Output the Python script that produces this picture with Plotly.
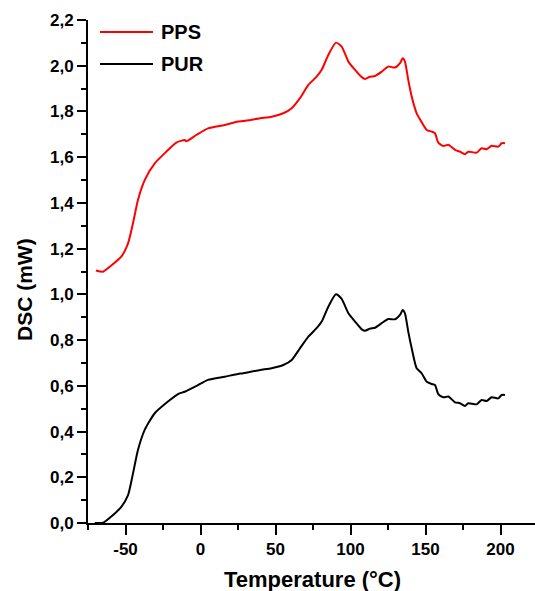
import plotly.graph_objects as go

series_names = ["PPS", "PUR"]
series_colors = ["#ff0000", "#000000"]

pps_temp = [-69.7, -65, -59.5, -52.8, -48.3, -45, -41.7, -37.2, -30.5, -22.8, -16.1, -10.5, -9.5, -2.8, 5, 16.1,
            25, 28.5, 39.7, 47.4, 55.2, 60.8, 66.3, 71.9, 77.4, 80.8, 85.2, 90.3, 94.1, 98.6, 103, 107.5, 109.7,
            113, 116.3, 120.8, 125.2, 129.7, 133, 134.8, 136.3, 138.5, 140.8, 144.1, 146.3, 150.8, 154.1, 156.3,
            158.5, 161.9, 165.2, 169.7, 173, 176.3, 178.5, 184.1, 187.4, 190.8, 194.1, 198.5, 200.8, 203]
pps_dsc = [1.104, 1.099, 1.126, 1.165, 1.223, 1.311, 1.413, 1.50, 1.573, 1.624, 1.664, 1.675, 1.670, 1.697, 1.726, 1.741,
           1.756, 1.758, 1.770, 1.777, 1.792, 1.814, 1.858, 1.916, 1.952, 1.982, 2.047, 2.101, 2.084, 2.018, 1.982, 1.950, 1.942,
           1.952, 1.955, 1.974, 1.996, 1.992, 2.011, 2.033, 2.018, 1.938, 1.865, 1.792, 1.766, 1.719, 1.712, 1.705,
           1.664, 1.649, 1.654, 1.632, 1.624, 1.613, 1.624, 1.620, 1.639, 1.635, 1.650, 1.646, 1.661, 1.661]

pur_temp = [-70.5, -65, -59.5, -52.8, -48.3, -45, -41.7, -37.2, -30.5, -21.7, -15, -10.5, -2.8, 5, 16.1, 25,
            28.5, 39.7, 47.4, 55.2, 60.8, 66.3, 71.9, 77.4, 80.8, 85.2, 90.3, 94.1, 98.6, 103, 107.5, 109.7,
            113, 116.3, 120.8, 125.2, 129.7, 133, 134.8, 136.3, 138.5, 140.8, 144.1, 147.4, 150.8, 154.1, 156.3,
            158.5, 161.9, 165.2, 169.7, 173, 176.3, 178.5, 184.1, 187.4, 190.8, 194.1, 198.5, 200.8, 203]
pur_dsc = [0.0, 0.001, 0.028, 0.071, 0.122, 0.217, 0.319, 0.407, 0.480, 0.531, 0.564, 0.574, 0.599, 0.626, 0.640, 0.652,
           0.655, 0.669, 0.677, 0.691, 0.713, 0.764, 0.815, 0.852, 0.881, 0.946, 1.0, 0.98, 0.917, 0.881, 0.847, 0.841,
           0.850, 0.854, 0.874, 0.892, 0.891, 0.910, 0.932, 0.917, 0.837, 0.764, 0.677, 0.655, 0.618, 0.608, 0.604,
           0.564, 0.550, 0.553, 0.528, 0.524, 0.512, 0.524, 0.519, 0.538, 0.534, 0.550, 0.545, 0.560, 0.560]

x_tick_vals = [-50, 0, 50, 100, 150, 200]
x_tick_text = ["-50", "0", "50", "100", "150", "200"]

x_title = "Temperature (°C)"
y_title = "DSC (mW)"

FONT = "Liberation Sans, Arial, sans-serif"

fig = go.Figure()
for name, color, xs, ys in [(series_names[0], series_colors[0], pps_temp, pps_dsc),
                            (series_names[1], series_colors[1], pur_temp, pur_dsc)]:
    fig.add_trace(go.Scatter(x=xs, y=ys, mode="lines", name=name,
                             line=dict(color=color, width=2, shape="spline", smoothing=0.6),
                             showlegend=False))

# legend drawn manually (long line samples like the original)
for i, (name, color) in enumerate(zip(series_names, series_colors)):
    ypix = 32 + i * 32
    yp = 1 - (ypix - 20) / (523 - 20)
    fig.add_shape(type="line", xref="paper", yref="paper",
                  x0=(100 - 88) / 447, x1=(153 - 88) / 447, y0=yp, y1=yp,
                  line=dict(color=color, width=2))
    fig.add_annotation(xref="paper", yref="paper", x=(159 - 88) / 447, y=yp,
                       text=name, showarrow=False, xanchor="left", yanchor="middle",
                       font=dict(family=FONT, size=20, color="black", weight="bold"))

# axis titles as annotations for exact placement
fig.add_annotation(xref="paper", yref="paper", x=(312 - 88) / 447, y=0, yshift=-(579 - 523),
                   text=x_title, showarrow=False, xanchor="center", yanchor="middle",
                   font=dict(family=FONT, size=22, color="black", weight="bold"))
fig.add_annotation(xref="paper", yref="paper", x=0, xshift=-(88 - 24), y=(523 - 290) / 503,
                   text=y_title, showarrow=False, textangle=-90, xanchor="center", yanchor="middle",
                   font=dict(family=FONT, size=21, color="black", weight="bold"))

axis_common = dict(
    showline=True, linecolor="black", linewidth=2, mirror=False,
    ticks="outside", tickcolor="black", tickwidth=2,
    showgrid=False, zeroline=False, automargin=False,
    tickfont=dict(family=FONT, size=17, color="black", weight="bold"),
)

fig.update_xaxes(**axis_common, range=[-75, 223], tickvals=x_tick_vals, ticktext=x_tick_text,
                 ticklen=10,
                 minor=dict(dtick=25, tick0=0, ticks="outside", ticklen=5, tickwidth=2, tickcolor="black"))
fig.update_yaxes(**axis_common, range=[0, 2.2], dtick=0.2, tick0=0, tickformat=".1f", ticklen=9,
                 minor=dict(dtick=0.1, ticks="outside", ticklen=5, tickwidth=2, tickcolor="black"))

fig.update_layout(
    width=535, height=591,
    margin=dict(l=88, r=0, t=20, b=68),
    paper_bgcolor="white", plot_bgcolor="white",
    separators=", ",
    showlegend=False,
)

fig.write_html("out.html", config={"displayModeBar": False},
               post_script="document.body.style.margin='0';document.body.style.overflow='hidden';")
